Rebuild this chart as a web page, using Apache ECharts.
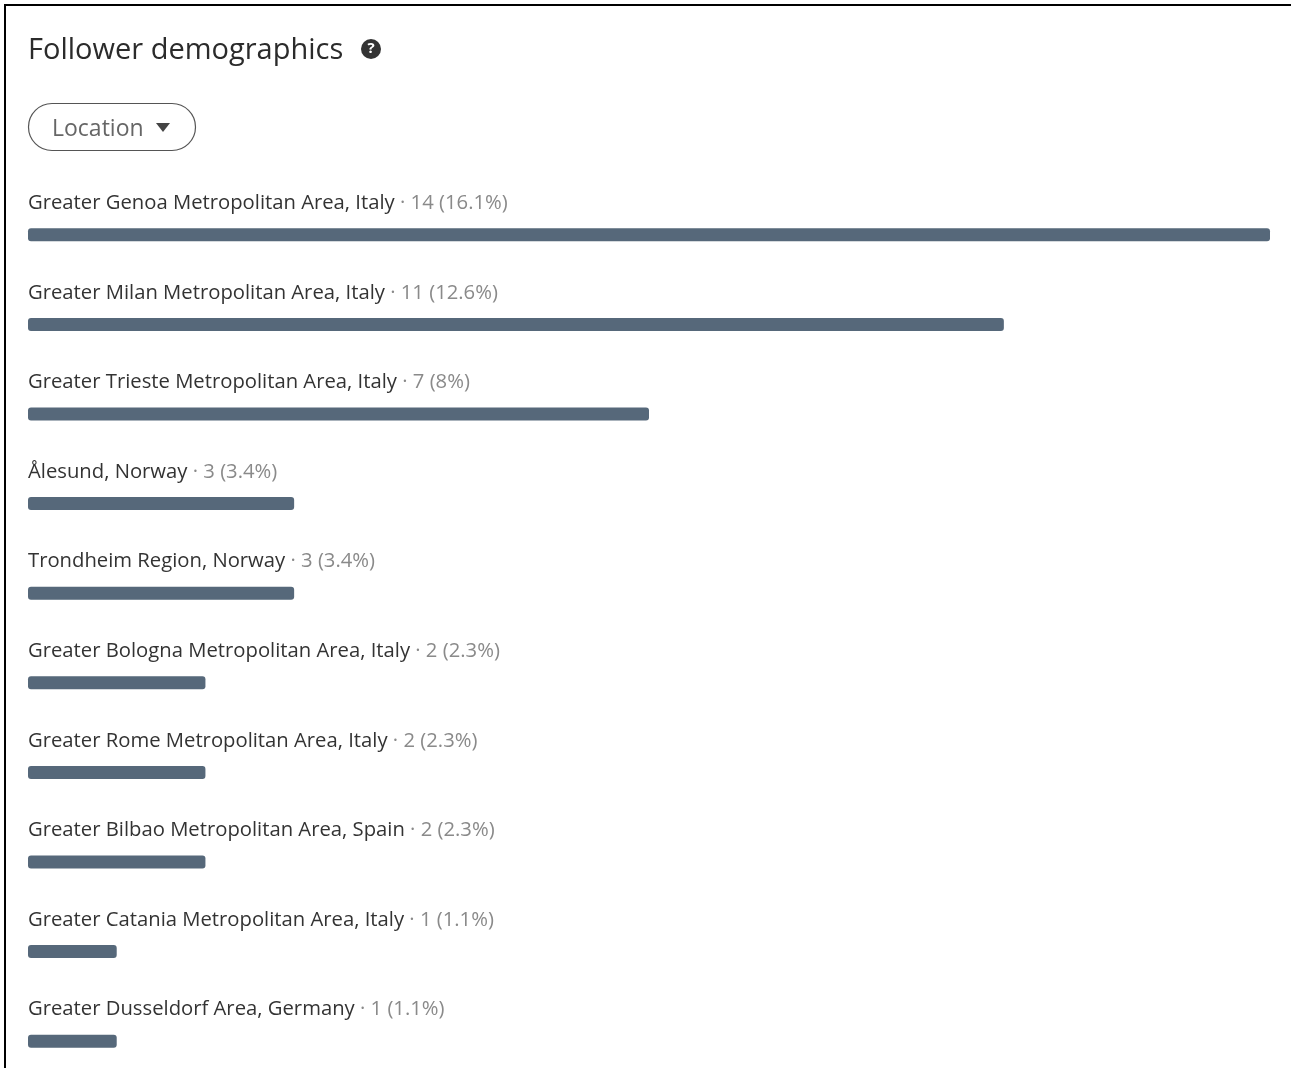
<!DOCTYPE html>
<html>
<head>
<meta charset="utf-8">
<title>Follower demographics</title>
<style>
  html, body { margin: 0; padding: 0; background: #fff; }
  #chart { width: 1291px; height: 1068px; }
</style>
<script src="https://cdn.jsdelivr.net/npm/echarts@6/dist/echarts.min.js"></script>
</head>
<body>
<div id="chart"></div>
<script>
const locations = [
  'Greater Genoa Metropolitan Area, Italy',
  'Greater Milan Metropolitan Area, Italy',
  'Greater Trieste Metropolitan Area, Italy',
  'Ålesund, Norway',
  'Trondheim Region, Norway',
  'Greater Bologna Metropolitan Area, Italy',
  'Greater Rome Metropolitan Area, Italy',
  'Greater Bilbao Metropolitan Area, Spain',
  'Greater Catania Metropolitan Area, Italy',
  'Greater Dusseldorf Area, Germany'
];
const followers = [14, 11, 7, 3, 3, 2, 2, 2, 1, 1];
const shares = ['16.1%', '12.6%', '8%', '3.4%', '3.4%', '2.3%', '2.3%', '2.3%', '1.1%', '1.1%'];

const FONT = '"Open Sans", "Noto Sans", sans-serif';
const chart = echarts.init(document.getElementById('chart'));

chart.setOption({
  animation: false,
  backgroundColor: '#ffffff',
  // the last row's band runs past the bottom of the card, so bounds are not enforced
  grid: { left: 28, top: 190, width: 1242, height: 896, outerBoundsMode: 'none' },
  xAxis: { type: 'value', min: 0, max: 14, show: false },
  yAxis: { type: 'category', inverse: true, data: locations, show: false },
  series: [{
    type: 'bar',
    data: followers,
    barWidth: 13,
    silent: true,
    clip: false,
    itemStyle: { color: '#56687a', borderRadius: 3 },
    label: {
      show: true,
      position: [0, -38],
      formatter: (p) => `{name|${locations[p.dataIndex]}}{value| · ${followers[p.dataIndex]} (${shares[p.dataIndex]})}`,
      rich: {
        name: { fontFamily: FONT, fontSize: 20.25, color: '#333333', lineHeight: 26 },
        value: { fontFamily: FONT, fontSize: 20.25, color: '#8a8a8a', lineHeight: 26 }
      }
    }
  }],
  graphic: [
    // card edges along the top and left
    { type: 'rect', silent: true, shape: { x: 4, y: 4, width: 1287, height: 2 }, style: { fill: '#000' } },
    { type: 'rect', silent: true, shape: { x: 4, y: 4, width: 2, height: 1064 }, style: { fill: '#000' } },
    // heading and help icon
    { type: 'text', silent: true, x: 28, y: 51, style: { text: 'Follower demographics', font: '29px ' + FONT, fill: '#2b2b2b', verticalAlign: 'middle' } },
    { type: 'circle', silent: true, shape: { cx: 371, cy: 49, r: 10 }, style: { fill: '#333' } },
    { type: 'text', silent: true, x: 371, y: 49, style: { text: '?', font: 'bold 15px ' + FONT, fill: '#fff', align: 'center', verticalAlign: 'middle' } },
    // filter pill
    { type: 'rect', silent: true, shape: { x: 28.5, y: 103.5, width: 167, height: 47, r: 23.5 }, style: { fill: '#fff', stroke: '#555', lineWidth: 1.2 } },
    { type: 'text', silent: true, x: 52, y: 129, style: { text: 'Location', font: '23px ' + FONT, fill: '#666', verticalAlign: 'middle' } },
    { type: 'polygon', silent: true, shape: { points: [[156, 123], [170, 123], [163, 132]] }, style: { fill: '#444' } }
  ]
});
</script>
</body>
</html>
